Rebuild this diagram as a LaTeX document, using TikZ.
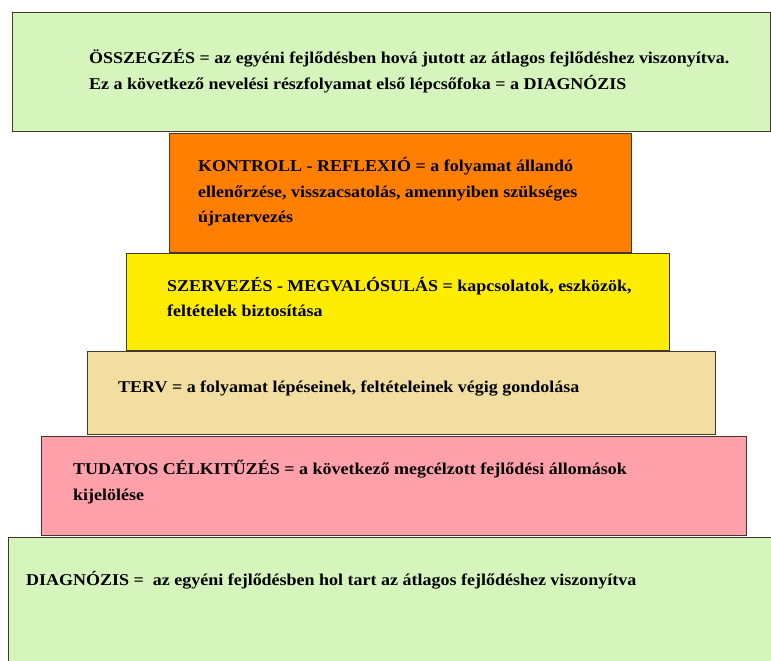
\documentclass[tikz,border=0pt]{standalone}
\usepackage{fontspec}
\setmainfont[FakeStretch=1.09]{Liberation Serif}
\usetikzlibrary{positioning}

\definecolor{zold}{RGB}{214,245,188}
\definecolor{narancs}{RGB}{255,128,0}
\definecolor{sarga}{RGB}{255,237,0}
\definecolor{bezs}{RGB}{242,222,160}
\definecolor{rozsa}{RGB}{255,160,170}
\definecolor{keret}{RGB}{70,55,45}

\tikzset{
  lepcso/.style={draw=keret, line width=0.8pt, inner sep=0pt},
  szoveg/.style={anchor=west, align=left, inner sep=0pt,
    font=\bfseries\fontsize{16.5}{25.5}\selectfont}
}

\begin{document}
\begin{tikzpicture}[x=1pt,y=-1pt]
  \useasboundingbox (0,0) rectangle (771,661);
  % lepcsofokok alulrol felfele
  \node[lepcso, fill=zold, minimum width=767pt, minimum height=133pt] (diag) at (391.5,603.5) {};
  \node[lepcso, fill=rozsa, minimum width=705pt, minimum height=99pt] (cel) at (393.5,485.5) {};
  \node[lepcso, fill=bezs, minimum width=628pt, minimum height=83pt] (terv) at (401,392.5) {};
  \node[lepcso, fill=sarga, minimum width=543pt, minimum height=97pt] (szerv) at (397.5,301.5) {};
  \node[lepcso, fill=narancs, minimum width=462pt, minimum height=119pt] (kontroll) at (400,192.5) {};
  \node[lepcso, fill=zold, minimum width=758pt, minimum height=119pt] (osszeg) at (391,71.5) {};

  % szovegek
  \node[szoveg] (osszegT) at (89,71) {ÖSSZEGZÉS = az egyéni fejlődésben hová jutott az átlagos fejlődéshez viszonyítva.\\
    Ez a következő nevelési részfolyamat első lépcsőfoka = a DIAGNÓZIS};
  \node[szoveg] (kontrollT) at (198,192) {KONTROLL - REFLEXIÓ = a folyamat állandó\\
    ellenőrzése, visszacsatolás, amennyiben szükséges\\
    újratervezés};
  \node[szoveg] (szervT) at (167,297) {SZERVEZÉS - MEGVALÓSULÁS = kapcsolatok, eszközök,\\
    feltételek biztosítása};
  \node[szoveg] (tervT) at (118,389) {TERV = a folyamat lépéseinek, feltételeinek végig gondolása};
  \node[szoveg] (celT) at (73,482) {TUDATOS CÉLKITŰZÉS = a következő megcélzott fejlődési állomások\\
    kijelölése};
  \node[szoveg] (diagT) at (26,580) {DIAGNÓZIS = \ az egyéni fejlődésben hol tart az átlagos fejlődéshez viszonyítva};
\end{tikzpicture}
\end{document}
